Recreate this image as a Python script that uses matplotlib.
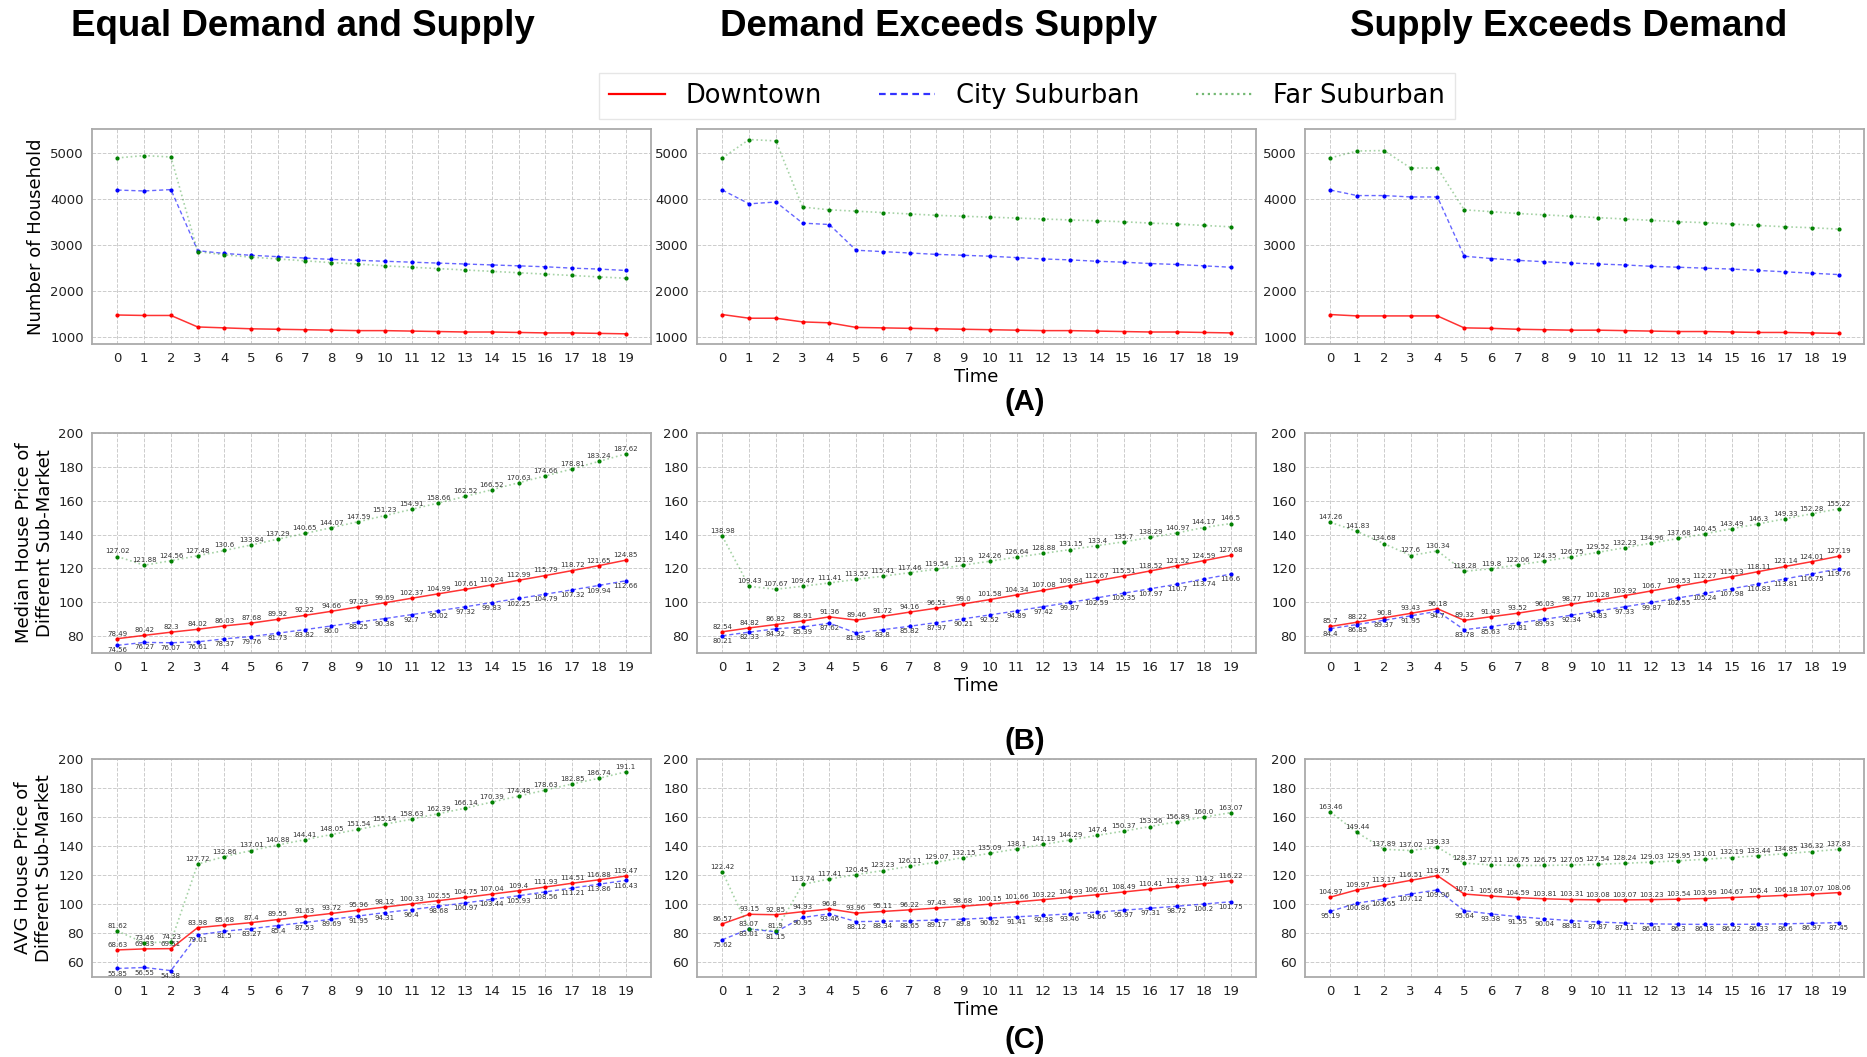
import matplotlib.pyplot as plt
from matplotlib.lines import Line2D

steps = list(range(20))
scenarios = ['Equal Demand and Supply', 'Demand Exceeds Supply', 'Supply Exceeds Demand']
regions = ['Downtown', 'City Suburban', 'Far Suburban']
panel_tags = ['(A)', '(B)', '(C)']

# (A) number of households
hh_equal_down = [1480, 1470, 1470, 1220, 1200, 1180, 1170, 1160, 1150, 1140, 1140, 1130, 1120, 1110, 1110, 1100, 1090, 1090, 1080, 1070]
hh_equal_city = [4200, 4180, 4210, 2880, 2820, 2780, 2750, 2720, 2690, 2670, 2650, 2630, 2610, 2590, 2570, 2550, 2530, 2500, 2480, 2450]
hh_equal_far = [4900, 4950, 4920, 2860, 2790, 2740, 2700, 2660, 2620, 2590, 2550, 2520, 2490, 2460, 2430, 2400, 2370, 2340, 2310, 2280]

hh_dem_down = [1490, 1410, 1410, 1330, 1310, 1210, 1200, 1190, 1180, 1170, 1160, 1150, 1140, 1140, 1130, 1120, 1110, 1110, 1100, 1090]
hh_dem_city = [4200, 3900, 3940, 3480, 3450, 2890, 2860, 2830, 2800, 2780, 2760, 2730, 2700, 2680, 2650, 2630, 2600, 2580, 2550, 2520]
hh_dem_far = [4900, 5300, 5270, 3830, 3770, 3740, 3710, 3680, 3650, 3630, 3610, 3590, 3570, 3550, 3530, 3510, 3480, 3460, 3430, 3400]

hh_sup_down = [1490, 1460, 1460, 1460, 1460, 1200, 1190, 1170, 1160, 1150, 1150, 1140, 1130, 1120, 1120, 1110, 1100, 1100, 1090, 1080]
hh_sup_city = [4200, 4080, 4080, 4050, 4050, 2760, 2710, 2670, 2640, 2610, 2590, 2570, 2540, 2520, 2500, 2480, 2450, 2420, 2390, 2360]
hh_sup_far = [4900, 5050, 5060, 4680, 4680, 3770, 3730, 3690, 3660, 3630, 3600, 3570, 3540, 3510, 3490, 3460, 3430, 3400, 3380, 3350]

# (B) median house price
med_equal_down = [78.49, 80.42, 82.3, 84.02, 86.03, 87.68, 89.92, 92.22, 94.66, 97.23, 99.69, 102.37, 104.99, 107.61, 110.24, 112.99, 115.79, 118.72, 121.65, 124.85]
med_equal_city = [74.56, 76.27, 76.07, 76.61, 78.37, 79.76, 81.73, 83.82, 86.0, 88.25, 90.38, 92.7, 95.02, 97.32, 99.83, 102.25, 104.79, 107.32, 109.94, 112.66]
med_equal_far = [127.02, 121.88, 124.56, 127.48, 130.6, 133.84, 137.29, 140.65, 144.07, 147.59, 151.23, 154.91, 158.66, 162.52, 166.52, 170.63, 174.66, 178.81, 183.24, 187.62]

med_dem_down = [82.54, 84.82, 86.82, 88.91, 91.36, 89.46, 91.72, 94.16, 96.51, 99.0, 101.58, 104.34, 107.08, 109.84, 112.67, 115.51, 118.52, 121.52, 124.59, 127.68]
med_dem_city = [80.21, 82.33, 84.32, 85.39, 87.62, 81.88, 83.8, 85.82, 87.97, 90.21, 92.52, 94.89, 97.42, 99.87, 102.59, 105.35, 107.97, 110.7, 113.74, 116.6]
med_dem_far = [138.98, 109.43, 107.67, 109.47, 111.41, 113.52, 115.41, 117.46, 119.54, 121.9, 124.26, 126.64, 128.88, 131.15, 133.4, 135.7, 138.29, 140.97, 144.17, 146.5]

med_sup_down = [85.7, 88.22, 90.8, 93.43, 96.18, 89.32, 91.43, 93.52, 96.03, 98.77, 101.28, 103.92, 106.7, 109.53, 112.27, 115.13, 118.11, 121.14, 124.01, 127.19]
med_sup_city = [84.4, 86.85, 89.37, 91.95, 94.7, 83.78, 85.63, 87.81, 89.93, 92.34, 94.83, 97.33, 99.87, 102.55, 105.24, 107.98, 110.83, 113.81, 116.75, 119.76]
med_sup_far = [147.26, 141.83, 134.68, 127.6, 130.34, 118.28, 119.8, 122.06, 124.35, 126.75, 129.52, 132.23, 134.96, 137.68, 140.45, 143.49, 146.3, 149.33, 152.28, 155.22]

# (C) average house price
avg_equal_down = [68.63, 69.33, 69.51, 83.98, 85.68, 87.4, 89.55, 91.63, 93.72, 95.96, 98.12, 100.33, 102.55, 104.75, 107.04, 109.4, 111.93, 114.51, 116.88, 119.47]
avg_equal_city = [55.85, 56.55, 54.38, 79.01, 81.5, 83.27, 85.4, 87.53, 89.69, 91.95, 94.31, 96.4, 98.68, 100.97, 103.44, 105.93, 108.56, 111.21, 113.86, 116.43]
avg_equal_far = [81.62, 73.46, 74.23, 127.72, 132.86, 137.01, 140.88, 144.41, 148.05, 151.54, 155.14, 158.63, 162.39, 166.14, 170.39, 174.48, 178.63, 182.85, 186.74, 191.1]

avg_dem_down = [86.57, 93.15, 92.85, 94.93, 96.8, 93.96, 95.11, 96.22, 97.43, 98.68, 100.15, 101.66, 103.22, 104.93, 106.61, 108.49, 110.41, 112.33, 114.2, 116.22]
avg_dem_city = [75.62, 83.01, 81.15, 90.95, 93.46, 88.12, 88.34, 88.65, 89.17, 89.8, 90.62, 91.41, 92.38, 93.46, 94.66, 95.97, 97.31, 98.72, 100.2, 101.75]
avg_dem_far = [122.42, 83.07, 81.9, 113.74, 117.41, 120.45, 123.23, 126.11, 129.07, 132.15, 135.09, 138.1, 141.19, 144.29, 147.4, 150.37, 153.56, 156.89, 160.0, 163.07]

avg_sup_down = [104.97, 109.97, 113.17, 116.51, 119.75, 107.1, 105.68, 104.59, 103.81, 103.31, 103.08, 103.07, 103.23, 103.54, 103.99, 104.67, 105.4, 106.18, 107.07, 108.06]
avg_sup_city = [95.19, 100.86, 103.65, 107.12, 109.96, 95.64, 93.38, 91.55, 90.04, 88.81, 87.87, 87.11, 86.61, 86.3, 86.18, 86.22, 86.33, 86.6, 86.97, 87.45]
avg_sup_far = [163.46, 149.44, 137.89, 137.02, 139.33, 128.37, 127.11, 126.75, 126.75, 127.05, 127.54, 128.24, 129.03, 129.95, 131.01, 132.19, 133.44, 134.85, 136.32, 137.83]

rows = [
    [(hh_equal_down, hh_equal_city, hh_equal_far),
     (hh_dem_down, hh_dem_city, hh_dem_far),
     (hh_sup_down, hh_sup_city, hh_sup_far)],
    [(med_equal_down, med_equal_city, med_equal_far),
     (med_dem_down, med_dem_city, med_dem_far),
     (med_sup_down, med_sup_city, med_sup_far)],
    [(avg_equal_down, avg_equal_city, avg_equal_far),
     (avg_dem_down, avg_dem_city, avg_dem_far),
     (avg_sup_down, avg_sup_city, avg_sup_far)],
]
ylabels = ['Number of Household',
           'Median House Price of\nDifferent Sub-Market',
           'AVG House Price of\nDifferent Sub-Market']
ylims = [(850, 5530), (70, 200), (50, 200)]
yticks = [range(1000, 5001, 1000), range(80, 201, 20), range(60, 201, 20)]
ylabel_x = [-0.084, -0.068, -0.07]

styles = [dict(color='red', ls='-', lw=1.1, alpha=0.8),
          dict(color='blue', ls=(0, (3, 2)), lw=1.0, alpha=0.6),
          dict(color='green', ls=':', lw=1.2, alpha=0.35)]
label_side = [1, -1, 1]  # value text above / below the point

fig = plt.figure(figsize=(18.67, 10.57), dpi=100)

col_x = [0.0493, 0.3733, 0.699]
col_w = 0.2994
row_y = [0.6746, 0.3822, 0.0757]
row_h = [0.2034, 0.2081, 0.2062]

for r in range(3):
    for c in range(3):
        ax = fig.add_axes([col_x[c], row_y[r], col_w, row_h[r]])
        series = rows[r][c]
        for k in range(3):
            vals = series[k]
            st = styles[k]
            ax.plot(steps, vals, color=st['color'], ls=st['ls'], lw=st['lw'], alpha=st['alpha'])
            ax.plot(steps, vals, ls='none', marker='.', ms=4, color=st['color'])
            if r > 0:
                for x, v in zip(steps, vals):
                    if label_side[k] > 0:
                        ax.annotate(str(v), (x, v), textcoords='offset points', xytext=(0, 1.5),
                                    ha='center', va='bottom', fontsize=5, color='#333333')
                    else:
                        ax.annotate(str(v), (x, v), textcoords='offset points', xytext=(0, -1.5),
                                    ha='center', va='top', fontsize=5, color='#333333')
        ax.set_xlim(-0.95, 19.95)
        ax.set_ylim(*ylims[r])
        ax.set_xticks(steps)
        ax.set_yticks(list(yticks[r]))
        ax.grid(True, ls='--', lw=0.7, color='#cccccc')
        ax.tick_params(length=0, labelsize=9.5, colors='#222222', pad=6)
        for sp in ax.spines.values():
            sp.set_color('#aaaaaa')
            sp.set_linewidth(1.3)
        if c == 0:
            ax.set_ylabel(ylabels[r], fontsize=13)
            ax.yaxis.set_label_coords(ylabel_x[r], 0.5)
        if c == 1:
            ax.set_xlabel('Time', fontsize=13, labelpad=2)

title_x = [0.162, 0.503, 0.840]
for t, x in zip(scenarios, title_x):
    fig.text(x, 0.975, t, ha='center', va='center', fontsize=26.5,
             fontweight='bold', family='Liberation Sans')

tag_y = [0.62, 0.299, 0.016]
for t, y in zip(panel_tags, tag_y):
    fig.text(0.549, y, t, ha='center', va='center', fontsize=21,
             fontweight='bold', family='Liberation Sans')

handles = [Line2D([], [], color=styles[k]['color'], ls=styles[k]['ls'], lw=1.6,
                  alpha=min(1, styles[k]['alpha'] + 0.2)) for k in range(3)]
fig.legend(handles, regions, loc='center', bbox_to_anchor=(0.55, 0.909), ncol=3,
           fontsize=18.5, frameon=True, edgecolor='#e0e0e0', handlelength=2.2,
           columnspacing=2.2, fancybox=False)

fig.savefig('out.png', dpi=100)
